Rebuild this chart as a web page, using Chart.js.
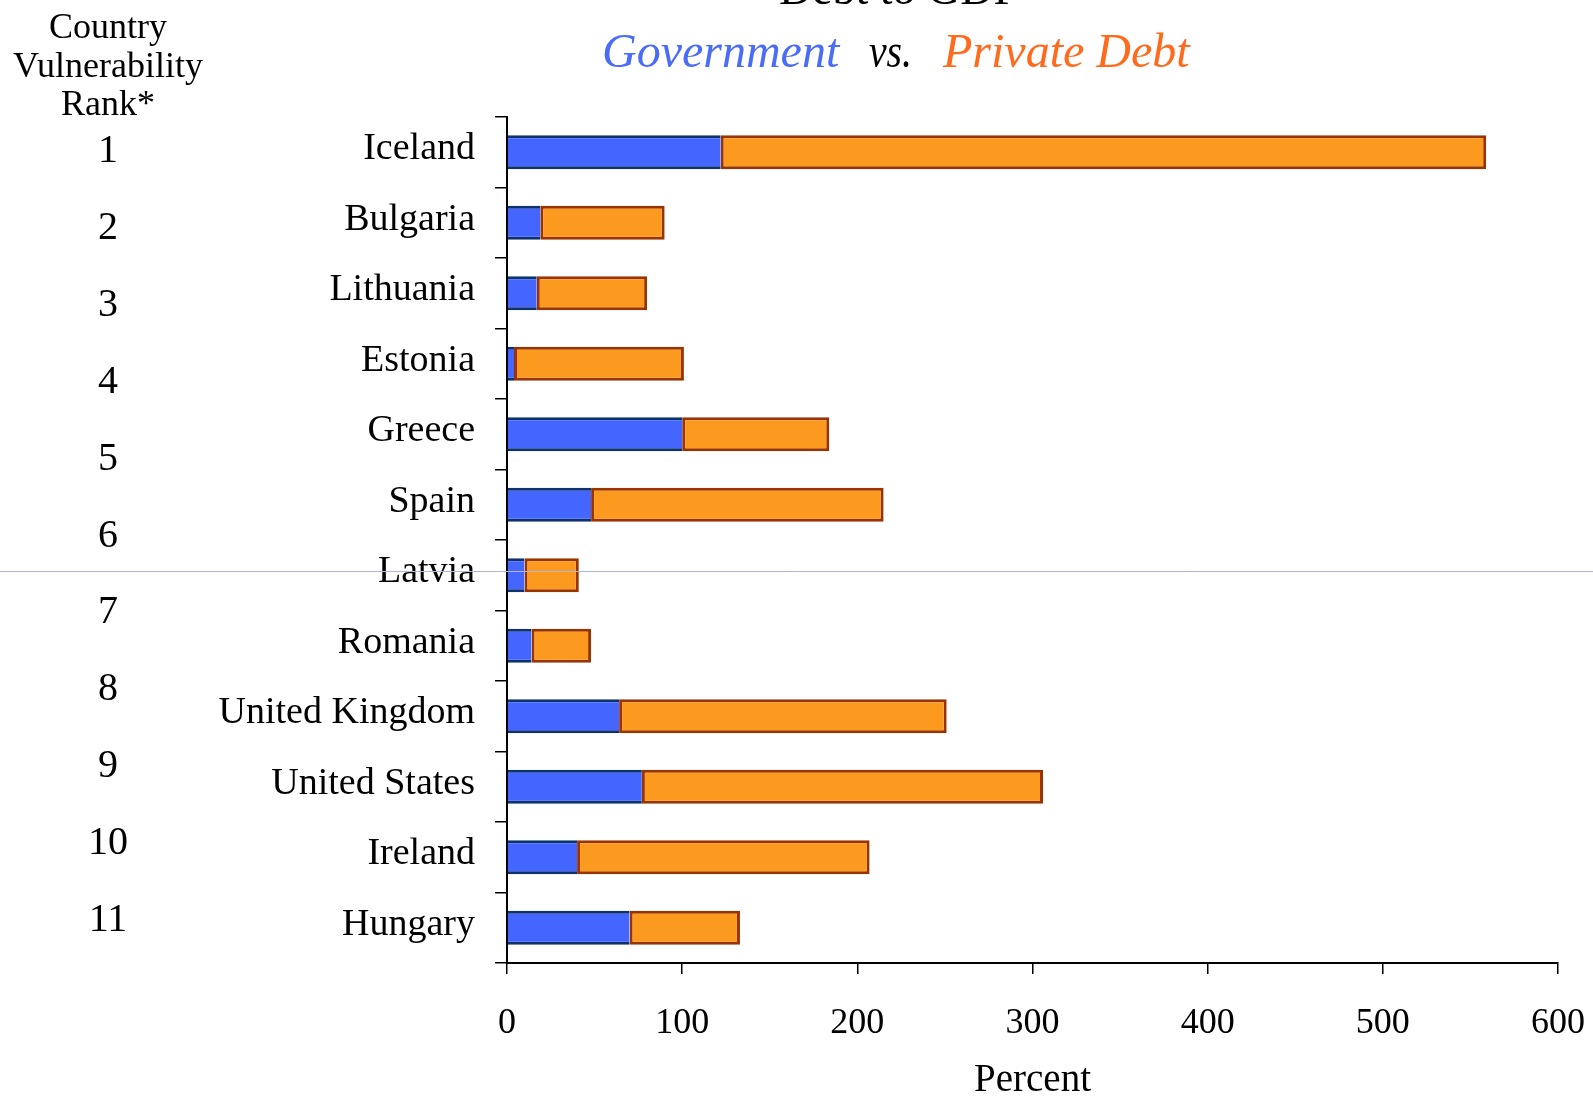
<!DOCTYPE html>
<html>
<head>
<meta charset="utf-8">
<script src="https://cdn.jsdelivr.net/npm/chart.js@4.4.1/dist/chart.umd.min.js"></script>
<style>
    html, body { margin: 0; padding: 0; background: #fff; }
    #wrap { width: 1593px; height: 1096px; position: relative; }
</style>
</head>
<body>
<div id="wrap"><canvas id="debtChart"></canvas></div>
<script>
// --- Data ---
const countries = ['Iceland', 'Bulgaria', 'Lithuania', 'Estonia', 'Greece', 'Spain', 'Latvia',
    'Romania', 'United Kingdom', 'United States', 'Ireland', 'Hungary'];
const ranks = ['1', '2', '3', '4', '5', '6', '7', '8', '9', '10', '11'];
const governmentDebt = [122, 19, 17, 4, 100, 48, 10, 14, 64, 77, 40, 70];
const privateDebt = [437, 71, 63, 97, 84, 167, 31, 34, 187, 229, 167, 63];
const xTickValues = [0, 100, 200, 300, 400, 500, 600];

const chartTitle = 'Debt to GDP';
const subtitleParts = ['Government', 'vs.', 'Private Debt'];
const rankHeader = ['Country', 'Vulnerability', 'Rank*'];
const xTitle = 'Percent';

const SERIF = '"Liberation Serif", "Times New Roman", serif';

document.addEventListener("DOMContentLoaded", function() {
    const ctx = document.getElementById('debtChart').getContext('2d');

    // Title, subtitle, rank header and the stray guide line
    const textPlugin = {
        id: 'textPlugin',
        afterDraw(chart) {
            const c = chart.ctx;
            c.save();
            c.textBaseline = 'alphabetic';

            c.fillStyle = '#000';
            c.textAlign = 'center';
            c.font = '46px ' + SERIF;
            c.fillText(chartTitle, 899, 4, 274);

            c.textAlign = 'left';
            c.font = 'italic 48px ' + SERIF;
            const colors = ['#4a6cf7', '#000000', '#ff6a1c'];
            const xs = [602, 869, 943];
            const ws = [244, 43, 256];
            subtitleParts.forEach((t, i) => {
                c.fillStyle = colors[i];
                c.fillText(t, xs[i], 67, ws[i]);
            });

            c.fillStyle = '#000';
            c.textAlign = 'center';
            c.font = '36px ' + SERIF;
            rankHeader.forEach((t, i) => {
                c.fillText(t, 108, 38 + i * 38.6, 196);
            });

            // faint horizontal line across the whole picture
            c.strokeStyle = '#b3b6d9';
            c.lineWidth = 1;
            c.beginPath();
            c.moveTo(0, 571.5);
            c.lineTo(chart.width, 571.5);
            c.stroke();
            c.restore();
        }
    };

    new Chart(ctx, {
        type: 'bar',
        data: {
            labels: countries,
            datasets: [{
                label: 'Government',
                data: governmentDebt,
                backgroundColor: '#4466ff',
                borderColor: '#0d326c',
                borderWidth: { top: 3, bottom: 3, left: 0, right: 0 },
                borderSkipped: false,
                yAxisID: 'y'
            }, {
                label: 'Private',
                data: privateDebt,
                backgroundColor: '#fb9a1e',
                borderColor: '#993300',
                borderWidth: 3,
                borderSkipped: false,
                yAxisID: 'y'
            }]
        },
        options: {
            indexAxis: 'y',
            responsive: true,
            maintainAspectRatio: false,
            animation: false,
            barPercentage: 0.48,
            categoryPercentage: 1,
            layout: { padding: { top: 117, right: 35, bottom: 0, left: 0 } },
            plugins: {
                legend: { display: false },
                tooltip: { enabled: false }
            },
            scales: {
                x: {
                    type: 'linear',
                    stacked: true,
                    min: 0,
                    max: 600,
                    afterBuildTicks(scale) {
                        scale.ticks = xTickValues.map(v => ({ value: v }));
                    },
                    ticks: { font: { family: SERIF, size: 36 }, color: '#000', padding: 28 },
                    grid: { drawOnChartArea: false, tickLength: 11, color: '#000', lineWidth: 1.5 },
                    border: { color: '#000', width: 2 },
                    title: {
                        display: true, text: xTitle, color: '#000',
                        font: { family: SERIF, size: 39, lineHeight: 0.8 },
                        padding: 0
                    },
                    afterFit(scale) {
                        scale.height = 133;
                        scale.paddingLeft = 0;
                        scale.paddingRight = 0;
                    }
                },
                y: {
                    type: 'category',
                    stacked: true,
                    position: 'left',
                    weight: 0,
                    offset: true,
                    grid: { offset: true, drawOnChartArea: false, tickLength: 12, color: '#000', lineWidth: 1.5 },
                    border: { color: '#000', width: 2 },
                    ticks: { font: { family: SERIF, size: 38 }, color: '#000', padding: 20, labelOffset: -3 },
                    afterFit(scale) { scale.width = 291; }
                },
                rank: {
                    type: 'category',
                    labels: ranks,
                    position: 'left',
                    weight: 1,
                    offset: true,
                    grid: { display: false, drawTicks: false },
                    border: { display: false },
                    ticks: { font: { family: SERIF, size: 40 }, color: '#000', crossAlign: 'center', padding: 88, labelOffset: -4 },
                    afterFit(scale) { scale.width = 216; }
                }
            }
        },
        plugins: [textPlugin]
    });
});
</script>
</body>
</html>
